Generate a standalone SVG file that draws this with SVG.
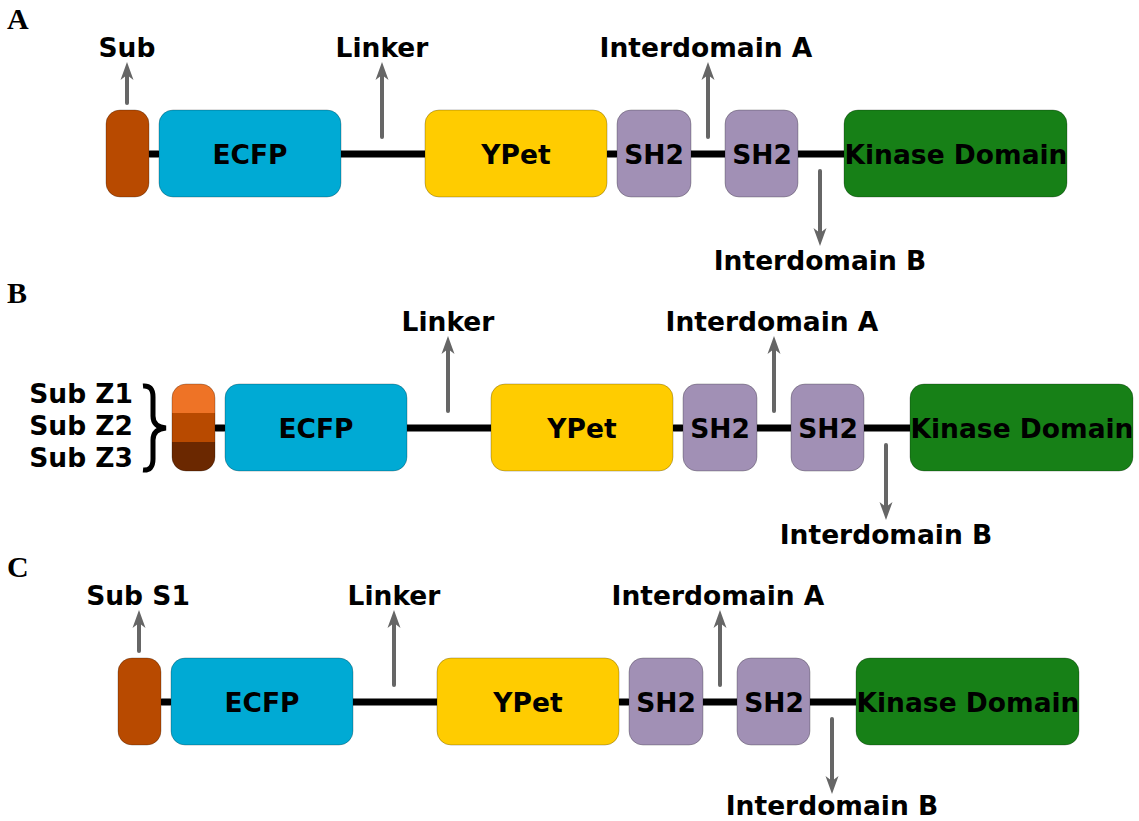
<svg xmlns="http://www.w3.org/2000/svg" width="1139" height="821" viewBox="0 0 1139 821">
<style>
.t{font-family:"DejaVu Sans",sans-serif;font-weight:bold;font-size:26.5px;fill:#000}
.m{text-anchor:middle}
.e{text-anchor:end}
.p{font-family:"Liberation Serif",serif;font-weight:bold;font-size:30px;fill:#000}
.box{stroke:#000;stroke-opacity:0.25;stroke-width:1}
.lnk{stroke:#000;stroke-width:7;stroke-linecap:round;fill:none}
.arr{stroke:#666;stroke-width:4;stroke-linecap:round;fill:none;marker-end:url(#ah)}
.sub{fill:#b84a00}.ecfp{fill:#00aad4}.ypet{fill:#ffcc00}.sh2{fill:#a190b5}.kin{fill:#178017}
</style>
<defs>
<marker id="ah" markerUnits="userSpaceOnUse" markerWidth="24" markerHeight="16" viewBox="-20 -8 24 16" refX="-12" refY="0" orient="auto" overflow="visible">
<path d="M0,0 L-18,-6.5 L-13,0 L-18,6.5 Z" fill="#666"/>
</marker>
<clipPath id="subclip"><rect x="106" y="110" width="43" height="87" rx="14"/></clipPath>
</defs>

<text class="p" x="7" y="29">A</text>
<text class="p" x="7" y="303">B</text>
<text class="p" x="7" y="577">C</text>

<!-- Panel A -->
<g id="panelA">
<g id="A-connectors">
<line class="lnk" x1="150" y1="154" x2="158" y2="154"/>
<line class="lnk" x1="341" y1="154" x2="425" y2="154"/>
<line class="lnk" x1="608" y1="154" x2="616" y2="154"/>
<line class="lnk" x1="691" y1="154" x2="725" y2="154"/>
<line class="lnk" x1="798" y1="154" x2="844" y2="154"/>
<line class="arr" x1="127" y1="103" x2="127" y2="74"/>
<line class="arr" x1="382" y1="137" x2="382" y2="74"/>
<line class="arr" x1="708" y1="137" x2="708" y2="74"/>
<line class="arr" x1="820" y1="171" x2="820" y2="234"/>
</g>
<g id="A-sub"><rect class="box sub" x="106" y="110" width="43" height="87" rx="14"/></g>
<g id="A-ecfp"><rect class="box ecfp" x="159" y="110" width="182" height="87" rx="14"/><text class="t m" x="250" y="164">ECFP</text></g>
<g id="A-ypet"><rect class="box ypet" x="425" y="110" width="182" height="87" rx="14"/><text class="t m" x="516" y="164">YPet</text></g>
<g id="A-sh2a"><rect class="box sh2" x="617" y="110" width="74" height="87" rx="14"/><text class="t m" x="654" y="164">SH2</text></g>
<g id="A-sh2b"><rect class="box sh2" x="725" y="110" width="73" height="87" rx="14"/><text class="t m" x="762" y="164">SH2</text></g>
<g id="A-kin"><rect class="box kin" x="844" y="110" width="223" height="87" rx="14"/><text class="t m" x="956" y="164">Kinase Domain</text></g>
<g id="A-labels">
<text class="t m" x="127" y="57">Sub</text>
<text class="t m" x="382" y="57">Linker</text>
<text class="t m" x="706" y="57">Interdomain A</text>
<text class="t m" x="820" y="270">Interdomain B</text>
</g>
</g>

<!-- Panel B -->
<g id="panelB" transform="translate(66,274)">
<g id="B-connectors">
<line class="lnk" x1="150" y1="154" x2="158" y2="154"/>
<line class="lnk" x1="341" y1="154" x2="425" y2="154"/>
<line class="lnk" x1="608" y1="154" x2="616" y2="154"/>
<line class="lnk" x1="691" y1="154" x2="725" y2="154"/>
<line class="lnk" x1="798" y1="154" x2="844" y2="154"/>
<line class="arr" x1="382" y1="137" x2="382" y2="74"/>
<line class="arr" x1="708" y1="137" x2="708" y2="74"/>
<line class="arr" x1="820" y1="171" x2="820" y2="234"/>
</g>
<g id="B-sub">
<g clip-path="url(#subclip)">
<rect x="106" y="110" width="43" height="29" fill="#ee7326"/>
<rect x="106" y="139" width="43" height="29" fill="#b84a00"/>
<rect x="106" y="168" width="43" height="29" fill="#6b2800"/>
</g>
<rect class="box" fill="none" x="106" y="110" width="43" height="87" rx="14"/>
</g>
<g id="B-ecfp"><rect class="box ecfp" x="159" y="110" width="182" height="87" rx="14"/><text class="t m" x="250" y="164">ECFP</text></g>
<g id="B-ypet"><rect class="box ypet" x="425" y="110" width="182" height="87" rx="14"/><text class="t m" x="516" y="164">YPet</text></g>
<g id="B-sh2a"><rect class="box sh2" x="617" y="110" width="74" height="87" rx="14"/><text class="t m" x="654" y="164">SH2</text></g>
<g id="B-sh2b"><rect class="box sh2" x="725" y="110" width="73" height="87" rx="14"/><text class="t m" x="762" y="164">SH2</text></g>
<g id="B-kin"><rect class="box kin" x="844" y="110" width="223" height="87" rx="14"/><text class="t m" x="956" y="164">Kinase Domain</text></g>
<g id="B-labels">
<text class="t m" x="382" y="57">Linker</text>
<text class="t m" x="706" y="57">Interdomain A</text>
<text class="t m" x="820" y="270">Interdomain B</text>
<text class="t e" x="67" y="129">Sub Z1</text>
<text class="t e" x="67" y="161">Sub Z2</text>
<text class="t e" x="67" y="193">Sub Z3</text>
<path d="M77,112 Q87,111 87,123 L87,142 Q87,153 100,154 Q87,155 87,166 L87,185 Q87,197 77,196" fill="none" stroke="#000" stroke-width="5"/>
</g>
</g>

<!-- Panel C -->
<g id="panelC" transform="translate(12,548)">
<g id="C-connectors">
<line class="lnk" x1="150" y1="154" x2="158" y2="154"/>
<line class="lnk" x1="341" y1="154" x2="425" y2="154"/>
<line class="lnk" x1="608" y1="154" x2="616" y2="154"/>
<line class="lnk" x1="691" y1="154" x2="725" y2="154"/>
<line class="lnk" x1="798" y1="154" x2="844" y2="154"/>
<line class="arr" x1="127" y1="103" x2="127" y2="74"/>
<line class="arr" x1="382" y1="137" x2="382" y2="74"/>
<line class="arr" x1="708" y1="137" x2="708" y2="74"/>
<line class="arr" x1="820" y1="171" x2="820" y2="234"/>
</g>
<g id="C-sub"><rect class="box sub" x="106" y="110" width="43" height="87" rx="14"/></g>
<g id="C-ecfp"><rect class="box ecfp" x="159" y="110" width="182" height="87" rx="14"/><text class="t m" x="250" y="164">ECFP</text></g>
<g id="C-ypet"><rect class="box ypet" x="425" y="110" width="182" height="87" rx="14"/><text class="t m" x="516" y="164">YPet</text></g>
<g id="C-sh2a"><rect class="box sh2" x="617" y="110" width="74" height="87" rx="14"/><text class="t m" x="654" y="164">SH2</text></g>
<g id="C-sh2b"><rect class="box sh2" x="725" y="110" width="73" height="87" rx="14"/><text class="t m" x="762" y="164">SH2</text></g>
<g id="C-kin"><rect class="box kin" x="844" y="110" width="223" height="87" rx="14"/><text class="t m" x="956" y="164">Kinase Domain</text></g>
<g id="C-labels">
<text class="t m" x="126" y="57">Sub S1</text>
<text class="t m" x="382" y="57">Linker</text>
<text class="t m" x="706" y="57">Interdomain A</text>
<text class="t m" x="820" y="267">Interdomain B</text>
</g>
</g>
</svg>
